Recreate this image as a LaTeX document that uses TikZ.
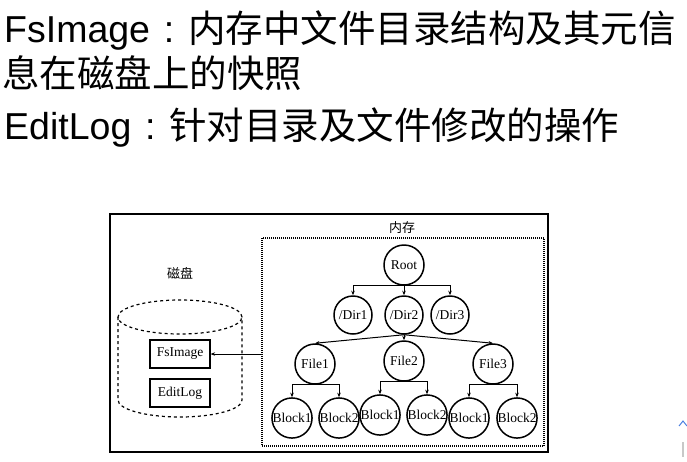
\documentclass[tikz,border=0pt]{standalone}
\usepackage{fontspec}
\setmainfont{Liberation Serif}
\newfontfamily\cjk{Noto Sans CJK SC}
\newfontfamily\lat{Liberation Sans}
\usetikzlibrary{arrows.meta}
\definecolor{caretblue}{HTML}{4A7FE0}
\definecolor{bargrey}{HTML}{C8C8C8}
\newcommand{\widecolon}{{\lat\makebox[38pt][c]{:}}}
\tikzset{
  headline/.style={anchor=base west, inner sep=0pt, font=\fontsize{37.5}{37.5}\selectfont},
  treenode/.style={draw, circle, line width=1.5pt, minimum size=40pt, inner sep=0pt,
    font=\fontsize{13.5}{13.5}\selectfont},
  dirnode/.style={treenode, minimum size=38pt},
  filebox/.style={draw, line width=1.2pt, minimum width=60pt, minimum height=28pt,
    inner sep=0pt, font=\fontsize{13.5}{13.5}\selectfont},
  arr/.style={line width=1pt, -{Stealth[length=4.5pt,width=3.5pt]}},
  caption/.style={inner sep=0pt, font=\cjk\fontsize{13}{13}\selectfont},
}
\begin{document}
\begin{tikzpicture}[x=1pt, y=-1pt]
\useasboundingbox (0,0) rectangle (687,461);
\fill[white] (0,0) rectangle (687,461);

% heading text
\node[headline] (l1) at (4,42) {{\lat FsImage}\widecolon{\cjk 内存中文件目录结构及其元信}};
\node[headline] (l2) at (2,87) {\cjk 息在磁盘上的快照};
\node[headline] (l3) at (4,139) {{\lat EditLog}\widecolon{\cjk 针对目录及文件修改的操作}};

% frames
\node[draw, line width=2.5pt, minimum width=438pt, minimum height=238pt, inner sep=0pt] (outer) at (329,333) {};
\node[draw, line width=1.1pt, dash pattern=on 1pt off 1pt, minimum width=282pt, minimum height=208pt, inner sep=0pt] (membox) at (403,342) {};
\node[caption] (memlabel) at (402,228) {内存};
\node[caption] (disklabel) at (180,273) {磁盘};

% disk cylinder
\draw[dashed, line width=1.2pt] (180,317) ellipse [x radius=62pt, y radius=17pt];
\draw[dashed, line width=1.2pt] (118,317) -- (118,400)
  arc[start angle=180, end angle=360, x radius=62pt, y radius=17pt] -- (242,317);
\node[filebox] (fs) at (180,354) {FsImage};
\node[filebox] (el) at (180,393) {EditLog};

% namespace tree
\node[treenode] (root) at (404,265) {Root};
\node[dirnode] (d1) at (353,315) {/Dir1};
\node[dirnode] (d2) at (404,315) {/Dir2};
\node[dirnode] (d3) at (450,315) {/Dir3};
\node[treenode] (f1) at (315,364) {File1};
\node[treenode] (f2) at (404,361) {File2};
\node[treenode] (f3) at (493,364) {File3};
\node[treenode] (b11) at (292,418) {Block1};
\node[treenode] (b12) at (339,418) {Block2};
\node[treenode] (b21) at (380,415) {Block1};
\node[treenode] (b22) at (427,415) {Block2};
\node[treenode] (b31) at (469,418) {Block1};
\node[treenode] (b32) at (517,418) {Block2};

\draw[arr] (root.south) -| (d1.north);
\draw[arr] (root.south) -| (d3.north);
\draw[arr] (root.south) -- (d2.north);
\draw[arr] (d2.south) -- (f1.north);
\draw[arr] (d2.south) -- (f2.north);
\draw[arr] (d2.south) -- (f3.north);
\draw[arr] (f1.south) -| (b11.north);
\draw[arr] (f1.south) -| (b12.north);
\draw[arr] (f2.south) -| (b21.north);
\draw[arr] (f2.south) -| (b22.north);
\draw[arr] (f3.south) -| (b31.north);
\draw[arr] (f3.south) -| (b32.north);

% memory image written to disk
\draw[arr] (membox.west |- fs.east) -- (fs.east);

% scroll widgets at the corner
\draw[caretblue, line width=1pt] (679,426) -- (683,421) -- (687,426);
\fill[bargrey] (682,442) rectangle (684,457);
\end{tikzpicture}
\end{document}
